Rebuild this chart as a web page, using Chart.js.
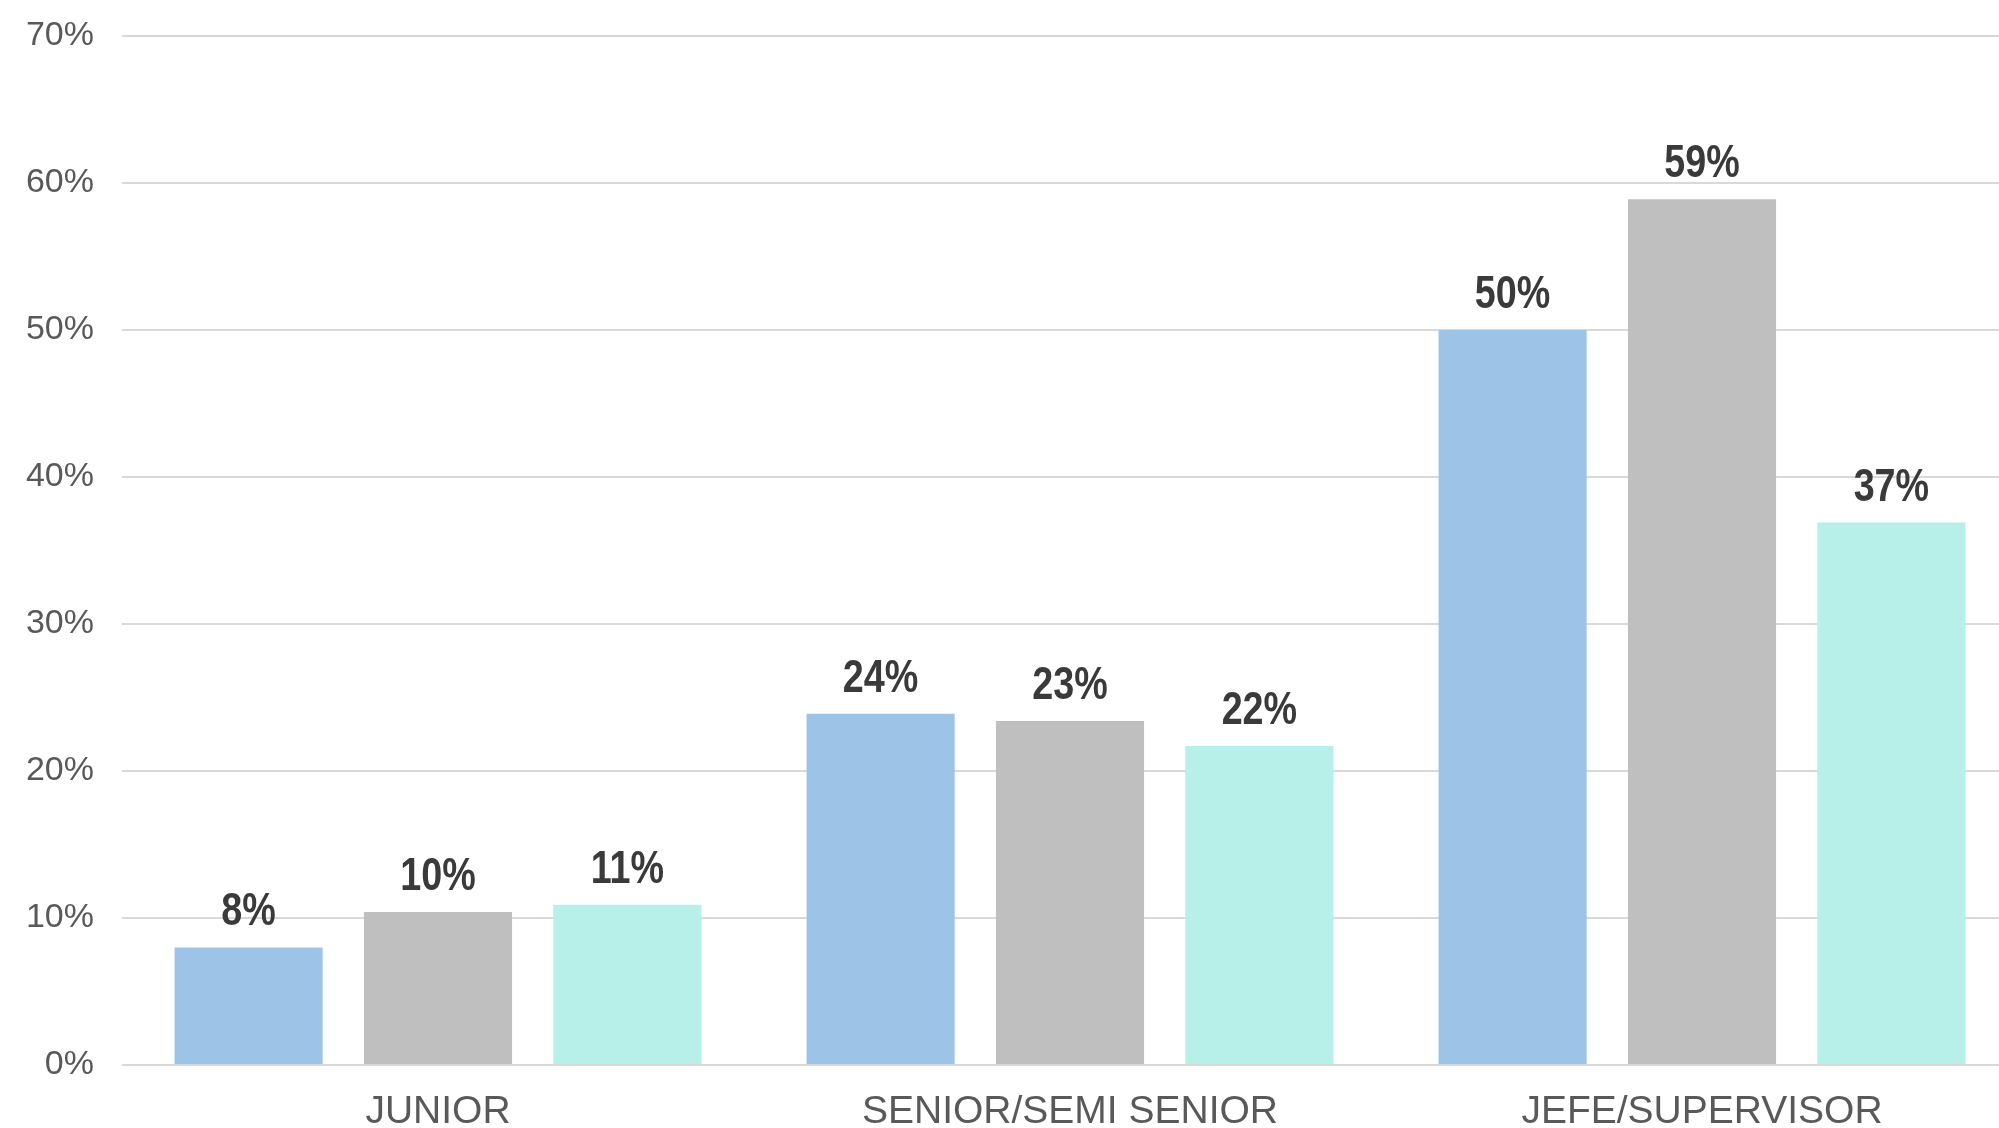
<!DOCTYPE html>
<html>
<head>
<meta charset="utf-8">
<script src="https://cdn.jsdelivr.net/npm/chart.js@4"></script>
<style>
  html, body { margin: 0; padding: 0; background: #fff; overflow: hidden; }
  #wrap { width: 2020px; height: 1128px; }
</style>
</head>
<body>
<div id="wrap"><canvas id="myChart" width="2020" height="1128"></canvas></div>
<script>
categories = ["JUNIOR", "SENIOR/SEMI SENIOR", "JEFE/SUPERVISOR"]
serie_1 = [8.0, 23.9, 50.0]
serie_2 = [10.4, 23.4, 58.9]
serie_3 = [10.9, 21.7, 36.9]
label_1 = ["8%", "24%", "50%"]
label_2 = ["10%", "23%", "59%"]
label_3 = ["11%", "22%", "37%"]
y_ticks = [0, 10, 20, 30, 40, 50, 60, 70]

color_palette = ["#9dc3e6", "#bfbfbf", "#b7efe9"]

// draws the value text above each bar (squeezed a bit to look condensed)
const barLabels = {
    id: 'barLabels',
    afterDatasetsDraw(chart) {
        const ctx = chart.ctx;
        chart.data.datasets.forEach((ds, i) => {
            chart.getDatasetMeta(i).data.forEach((bar, j) => {
                ctx.save();
                ctx.translate(bar.x, bar.y - 22);
                ctx.scale(0.82, 1);
                ctx.font = 'bold 46px "Liberation Sans", Arial, sans-serif';
                ctx.fillStyle = '#3a3a3a';
                ctx.textAlign = 'center';
                ctx.textBaseline = 'alphabetic';
                ctx.fillText(ds.valueLabels[j], 0, 0);
                ctx.restore();
            });
        });
    }
};

function plotBarChart() {
    let myChart = document.getElementById('myChart').getContext('2d');
    let barChart = new Chart(myChart, {
        type: 'bar',
        data: {
            labels: categories,
            datasets: [
                { label: "Serie 1", data: serie_1, valueLabels: label_1, backgroundColor: color_palette[0] },
                { label: "Serie 2", data: serie_2, valueLabels: label_2, backgroundColor: color_palette[1] },
                { label: "Serie 3", data: serie_3, valueLabels: label_3, backgroundColor: color_palette[2] }
            ]
        },
        options: {
            responsive: false,
            animation: false,
            barPercentage: 0.782,
            categoryPercentage: 0.899,
            layout: { padding: { top: 36, right: 2, left: 0, bottom: 0 } },
            plugins: {
                legend: { display: false },
                tooltip: { enabled: false }
            },
            scales: {
                x: {
                    afterFit(scale) { scale.height = 63; scale.paddingLeft = 0; scale.paddingRight = 0; },
                    grid: { display: false, drawTicks: false },
                    border: { display: false },
                    ticks: {
                        color: '#595959',
                        padding: 28,
                        font: { family: '"Liberation Sans", Arial, sans-serif', size: 39, lineHeight: 1 }
                    }
                },
                y: {
                    min: 0,
                    max: 70,
                    afterFit(scale) { scale.width = 122; scale.paddingTop = 0; scale.paddingBottom = 0; },
                    afterBuildTicks(scale) { scale.ticks = y_ticks.map(v => ({ value: v })); },
                    grid: { color: '#d9d9d9', lineWidth: 2, drawTicks: false },
                    border: { display: false },
                    ticks: {
                        color: '#595959',
                        padding: 28,
                        font: { family: '"Liberation Sans", Arial, sans-serif', size: 34 },
                        callback: v => v + '%'
                    }
                }
            }
        },
        plugins: [barLabels]
    });
    return barChart;
}

plotBarChart()
</script>
</body>
</html>
